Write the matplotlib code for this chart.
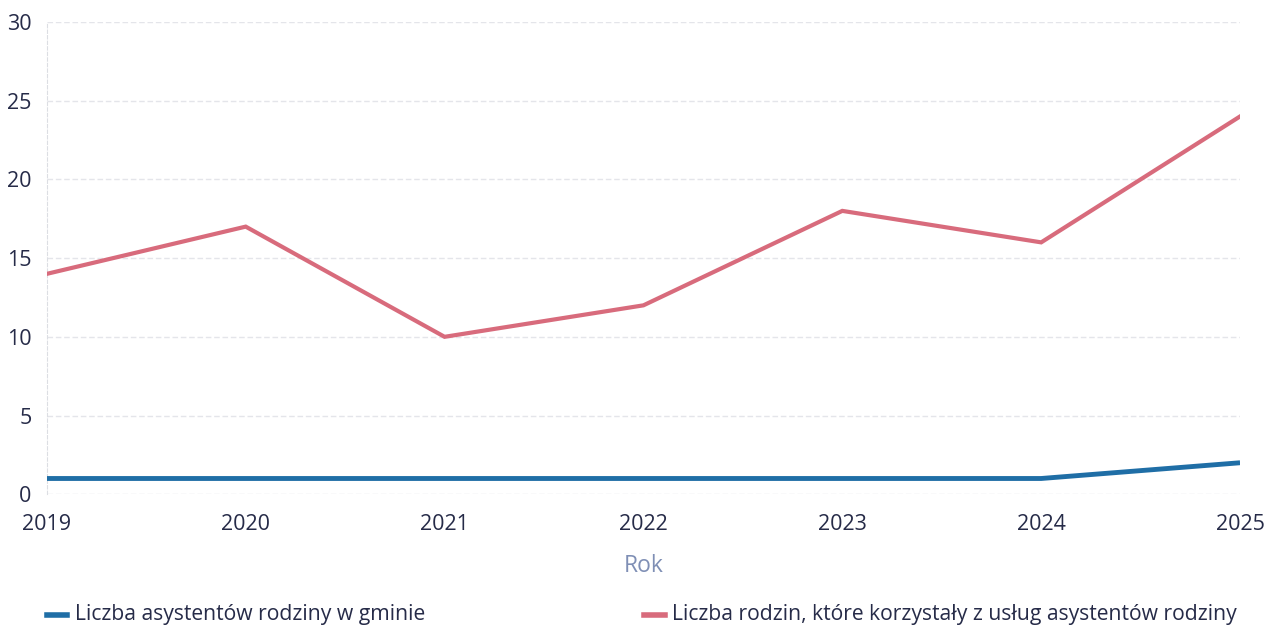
import matplotlib
matplotlib.use("Agg")
import matplotlib.pyplot as plt
from matplotlib.lines import Line2D

years = [2019, 2020, 2021, 2022, 2023, 2024, 2025]
asystenci = [1, 1, 1, 1, 1, 1, 2]
rodziny = [14, 17, 10, 12, 18, 16, 24]
labels = ["Liczba asystentów rodziny w gminie",
          "Liczba rodzin, które korzystały z usług asystentów rodziny"]
yticks = [0, 5, 10, 15, 20, 25, 30]

plt.rcParams['font.family'] = ['Open Sans', 'DejaVu Sans']

fig = plt.figure(figsize=(12.66, 6.28), dpi=100)
ax = fig.add_axes([0.037, 0.213, 0.9425, 0.752])

blue = "#1f6ea6"
red = "#d86b7c"
txt = "#262b48"

ax.plot(years, asystenci, color=blue, lw=3.5, solid_capstyle='butt', zorder=3)
ax.plot(years, rodziny, color=red, lw=3.0, solid_joinstyle='miter', zorder=3)

ax.set_xlim(years[0], years[-1])
ax.set_ylim(0, 30)
ax.set_yticks(yticks)
ax.set_xticks(years)
ax.grid(axis='y', color="#e4e5ea", lw=1.0, ls=(0, (4, 2)))
for s in ['top', 'right', 'bottom']:
    ax.spines[s].set_visible(False)
ax.spines['left'].set_color("#dcdee3")
ax.spines['left'].set_linestyle((0, (3, 2)))
ax.tick_params(axis='both', length=0, labelsize=15.5, colors=txt)
ax.tick_params(axis='y', pad=11)
ax.tick_params(axis='x', pad=14)
ax.set_xlabel("Rok", fontsize=16.5, color="#7f8fb5", labelpad=14)

fig.text(0.059, 0.012, labels[0], fontsize=15.2, color=txt, va='baseline')
fig.text(0.531, 0.012, labels[1], fontsize=15.2, color=txt, va='baseline')
fig.add_artist(Line2D([0.037, 0.053], [0.021, 0.021], color=blue, lw=4, transform=fig.transFigure))
fig.add_artist(Line2D([0.509, 0.525], [0.021, 0.021], color=red, lw=4, transform=fig.transFigure))

fig.savefig("out.png", dpi=100)
